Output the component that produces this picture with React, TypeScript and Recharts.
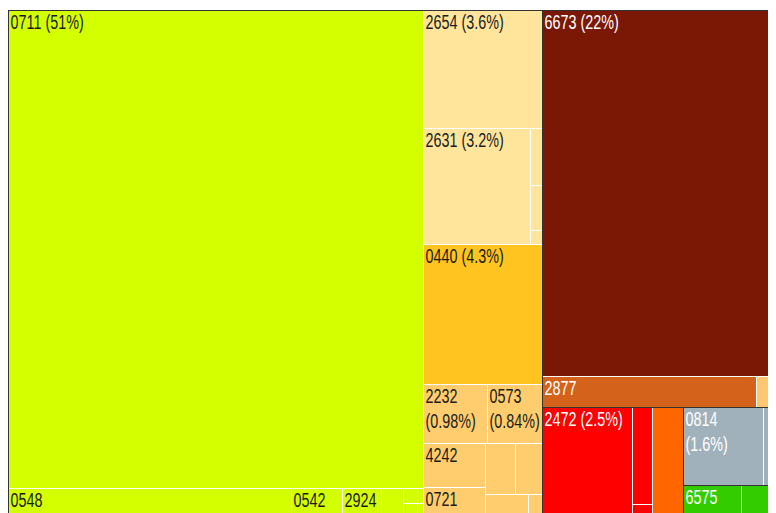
import { Treemap } from "recharts";

// export shares (%) by product code, grouped the way the treemap nests them
const vegCodes = ["0711", "0548", "0542", "2924", "", "", "", ""];
const vegShares = [51.2, 1.9, 0.34, 0.26, 0.15, 0.08, 0.04, 0.035];

const fibreCodes = ["2654", "2631", "", "", ""];
const fibreShares = [3.6, 3.2, 0.175, 0.14, 0.05];

const maizeCodes = ["0440"];
const maizeShares = [4.3];

const seedCodes = ["2232", "0573"];
const seedShares = [0.98, 0.84];
const seedPairCodes = ["4242", "0721"];
const seedPairShares = [0.7, 0.44];
const seedSmallCodes = ["", "", "", ""];
const seedSmallShares = [0.39, 0.36, 0.22, 0.07];

const stoneCodes = ["6673"];
const stoneShares = [22.1];
const oreCodes = ["2877"];
const oreShares = [1.71];
const miscCodes = [""];
const miscShares = [0.16];

const woodCodes = ["2472", "", ""];
const woodShares = [2.5, 0.5, 0.04];
const orangeCodes = [""];
const orangeShares = [0.87];
const grayCodes = ["0814", ""];
const grayShares = [1.6, 0.1];
const blueCodes = ["", ""];
const blueShares = [0.13, 0.03];
const greenCodes = ["6575", ""];
const greenShares = [0.44, 0.2];
const brownCodes = [""];
const brownShares = [0.06];

const allShares = [
  vegShares, fibreShares, maizeShares, seedShares, seedPairShares, seedSmallShares,
  stoneShares, oreShares, miscShares, woodShares, orangeShares, grayShares,
  blueShares, greenShares, brownShares
];
const grandTotal = allShares.flat().reduce((a, b) => a + b, 0);

const leaves = (fam: string, codes: string[], shares: number[]) =>
  codes.map((name, i) => ({ name, value: shares[i], fam }));

const group = (name: string, children: any[]) => ({ name, children });

const data = [
  group("west", [
    group("veg", leaves("veg", vegCodes, vegShares)),
    group("crops", [
      group("fibre", leaves("fibre", fibreCodes, fibreShares)),
      group("maize", leaves("maize", maizeCodes, maizeShares)),
      group("seeds", [
        ...leaves("seeds", seedCodes, seedShares),
        group("seedsPair", leaves("seeds", seedPairCodes, seedPairShares)),
        group("seedsSmall", leaves("seeds", seedSmallCodes, seedSmallShares))
      ])
    ])
  ]),
  group("east", [
    group("eastUpper", [
      ...leaves("stone", stoneCodes, stoneShares),
      ...leaves("ore", oreCodes, oreShares),
      ...leaves("misc", miscCodes, miscShares)
    ]),
    group("eastLower", [
      group("lowerLeft", [
        group("wood", leaves("wood", woodCodes, woodShares)),
        group("orange", leaves("orange", orangeCodes, orangeShares))
      ]),
      group("lowerRight", [
        group("lrTop", [
          group("gray", leaves("gray", grayCodes, grayShares)),
          group("blue", leaves("blue", blueCodes, blueShares))
        ]),
        group("lrBottom", [
          group("green", leaves("green", greenCodes, greenShares)),
          group("brown", leaves("brown", brownCodes, brownShares))
        ])
      ])
    ])
  ])
];

const ink = "#1c1c1c";
const famStyle: Record<string, { fill: string; text: string }> = {
  veg: { fill: "#d4ff00", text: ink },
  fibre: { fill: "#ffe49c", text: ink },
  maize: { fill: "#ffc41f", text: ink },
  seeds: { fill: "#ffcd6e", text: ink },
  stone: { fill: "#7b1805", text: "#ffffff" },
  ore: { fill: "#d4621a", text: "#ffffff" },
  misc: { fill: "#ffc870", text: ink },
  wood: { fill: "#ff0000", text: "#ffffff" },
  orange: { fill: "#ff6600", text: "#ffffff" },
  gray: { fill: "#a1b1bc", text: "#ffffff" },
  blue: { fill: "#1f3a73", text: "#ffffff" },
  green: { fill: "#33cc00", text: "#ffffff" },
  brown: { fill: "#c58a4b", text: ink }
};
const darkGroups = new Set(["east", "eastLower", "lowerRight"]);

// Liberation Sans squeezed horizontally to mimic the condensed label face
const fontSize = 21;
const squeeze = 0.685;
const em: Record<string, number> = { "(": 0.333, ")": 0.333, "%": 0.889, ".": 0.278, " ": 0.278 };
const textW = (s: string) =>
  s.split("").reduce((w, c) => w + (em[c] ?? 0.556) * fontSize * squeeze, 0);
const fmtPct = (p: number) => (p >= 10 ? Math.round(p).toString() : p.toPrecision(2)) + "%";

function renderNode(props: any) {
  const { x, y, width, height, depth, name, fam, value } = props;
  if (!(width > 0) || !(height > 0)) return <g />;
  if (depth === 0) return <rect x={x} y={y} width={width} height={height} fill="#333" />;
  const rx = x + 1;
  const ry = y + 1;
  const rw = Math.max(0, width - 1);
  const rh = Math.max(0, height - 1);
  if (!fam) {
    return <rect x={rx} y={ry} width={rw} height={rh} fill={darkGroups.has(name) ? "#333" : "#ffffff"} />;
  }
  const st = famStyle[fam];
  let lines: string[] = [];
  if (name && height >= 22 && textW(name) + 4 <= width) {
    lines = [name];
    if (height >= 50) {
      const pct = `(${fmtPct((value / grandTotal) * 100)})`;
      const full = `${name} ${pct}`;
      if (textW(full) + 8 <= width) lines = [full];
      else if (textW(pct) + 4 <= width) lines = [name, pct];
    }
  }
  return (
    <g>
      <rect x={rx} y={ry} width={rw} height={rh} fill={st.fill} />
      {lines.map((t, i) => (
        <text
          key={i}
          x={0}
          y={0}
          transform={`translate(${x + 2.5} ${y + 19 + i * 25}) scale(${squeeze} 1)`}
          fontSize={fontSize}
          fontFamily="'Liberation Sans', Arial, sans-serif"
          fill={st.text}
        >
          {t}
        </text>
      ))}
    </g>
  );
}

export default function App() {
  return (
    <div style={{ marginTop: 2 }}>
      <Treemap
        width={768}
        height={504}
        data={data}
        dataKey="value"
        aspectRatio={1}
        isAnimationActive={false}
        content={renderNode}
      />
    </div>
  );
}
